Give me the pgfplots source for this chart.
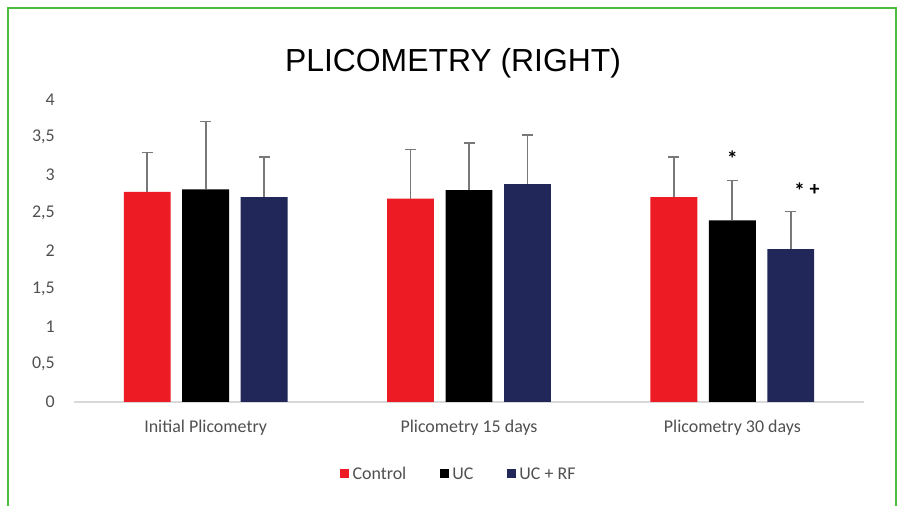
\documentclass[border=0pt]{standalone}
\usepackage{pgfplots}
\pgfplotsset{compat=1.18}
\usepackage{fontspec}
\setmainfont{Carlito}
\newfontfamily\titlefont{Liberation Sans}
\definecolor{cred}{RGB}{237,28,36}
\definecolor{cnavy}{RGB}{33,39,89}
\definecolor{cgreen}{RGB}{76,187,62}
\definecolor{ctick}{RGB}{80,80,80}
\definecolor{cerr}{RGB}{120,120,120}
\definecolor{cbase}{RGB}{217,217,217}
\pgfplotsset{myerr/.style={error bars/.cd, y dir=plus, y explicit,
    error bar style={color=cerr, line width=1.8bp},
    error mark options={rotate=90, mark size=5.5bp, line width=1.8bp, color=cerr}}}
\begin{document}
\begin{tikzpicture}
\useasboundingbox (0,0) rectangle (901bp,506bp);
\fill[white] (0,0) rectangle (901bp,506bp);
\draw[cgreen, line width=1.6bp] (8bp,0) -- (8bp,498bp) -- (896bp,498bp) -- (896bp,0);
\node[anchor=base, font=\titlefont\fontsize{32}{32}\selectfont, inner sep=0pt] at (453bp,434bp) {PLICOMETRY (RIGHT)};
\begin{axis}[
  at={(74bp,104bp)}, anchor=south west,
  scale only axis, width=790bp, height=302.5bp,
  xmin=-0.5, xmax=2.5, ymin=0, ymax=4,
  enlargelimits=false, clip=false,
  axis line style={draw=none},
  major tick length=0pt,
  ytick={0,0.5,...,4},
  yticklabels={0,{0,5},1,{1,5},2,{2,5},3,{3,5},4},
  xtick={0,1,2},
  xticklabels={Initial Plicometry, Plicometry 15 days, Plicometry 30 days},
  ticklabel style={font=\fontsize{18}{20}\selectfont, text=ctick},
  yticklabel style={inner sep=0pt, xshift=-19bp},
  xticklabel style={inner sep=0pt, anchor=base, yshift=-31bp},
  extra y ticks={0}, extra y tick labels={},
  extra y tick style={grid=major, major grid style={draw=cbase, line width=1.5bp}},
  ybar, bar width=0.178,
  legend columns=-1,
  legend style={draw=none, fill=none, at={(0.488,-0.238)}, anchor=center,
    font=\fontsize{18}{20}\selectfont, text=ctick, inner sep=0pt,
    nodes={inner sep=3.5bp},
    /tikz/every even column/.append style={column sep=30bp}},
  legend image code/.code={\fill[#1, draw=none] (0bp,-4.5bp) rectangle (9bp,4.5bp);},
]
\addplot[fill=cred, draw=none, bar shift=-0.222, myerr] coordinates {
  (0,2.78) +- (0,0.52)
  (1,2.69) +- (0,0.65)
  (2,2.71) +- (0,0.53)
};
\addplot[fill=black, draw=none, bar shift=0, myerr] coordinates {
  (0,2.81) +- (0,0.90)
  (1,2.80) +- (0,0.63)
  (2,2.40) +- (0,0.53)
};
\addplot[fill=cnavy, draw=none, bar shift=0.222, myerr] coordinates {
  (0,2.71) +- (0,0.53)
  (1,2.88) +- (0,0.65)
  (2,2.02) +- (0,0.50)
};
\legend{Control, UC, UC + RF}
\node[font=\bfseries\fontsize{22}{22}\selectfont, inner sep=0pt] at (axis cs:2,3.22) {*};
\node[font=\bfseries\fontsize{22}{22}\selectfont, inner sep=0pt] at (axis cs:2.255,2.80) {*};
\node[font=\bfseries\fontsize{20}{20}\selectfont, inner sep=0pt] at (axis cs:2.312,2.80) {+};
\end{axis}
\end{tikzpicture}
\end{document}
